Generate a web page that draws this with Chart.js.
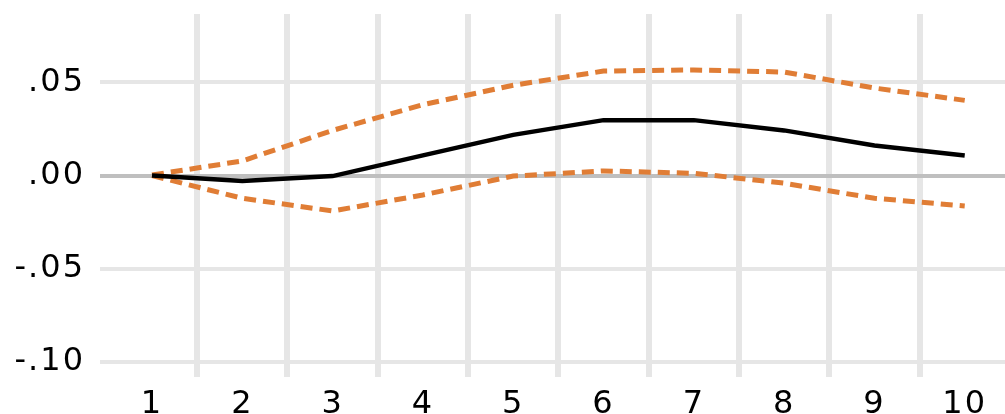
<!DOCTYPE html>
<html lang="en">

<head>
    <meta charset="UTF-8">
    <title>Impulse response</title>
    <script src="https://cdn.jsdelivr.net/npm/chart.js"></script>
</head>

<body style="margin:0;background:#fff;">

    <div style="width:1005px;height:414px;">
        <canvas id="myChart"></canvas>
    </div>

    <script>
        // periods
        const steps = [1, 2, 3, 4, 5, 6, 7, 8, 9, 10];
        // response + bands
        const response = [0.000, -0.0029, -0.0003, 0.0108, 0.0218, 0.0297, 0.0297, 0.0242, 0.0161, 0.0108];
        const upper = [0.0003, 0.0078, 0.0242, 0.0380, 0.0484, 0.0560, 0.0566, 0.0555, 0.0469, 0.0403];
        const lower = [0.000, -0.0122, -0.0190, -0.0104, -0.0003, 0.0025, 0.0012, -0.0041, -0.0122, -0.0163];
        const yTicks = [-0.10, -0.05, 0.00, 0.05];

        const toPts = (arr) => steps.map((s, i) => ({ x: s, y: arr[i] }));

        // wider digits like the original
        const spacing = {
            id: 'spacing',
            beforeLayout: (chart) => { chart.ctx.letterSpacing = '2px'; },
            beforeDraw: (chart) => { chart.ctx.letterSpacing = '2px'; },
        };

        const orange = '#e07d35';

        new Chart(document.getElementById('myChart'), {
            type: 'line',
            data: {
                datasets: [
                    {
                        label: 'response',
                        data: toPts(response),
                        borderColor: '#000',
                        borderWidth: 4.5,
                        pointRadius: 0,
                    },
                    {
                        label: 'upper',
                        data: toPts(upper),
                        borderColor: orange,
                        borderWidth: 5,
                        borderDash: [12, 7],
                        pointRadius: 0,
                    },
                    {
                        label: 'lower',
                        data: toPts(lower),
                        borderColor: orange,
                        borderWidth: 5,
                        borderDash: [12, 7],
                        pointRadius: 0,
                    }
                ]
            },
            options: {
                responsive: true,
                maintainAspectRatio: false,
                animation: false,
                layout: { padding: { top: 14, right: 0, left: 0, bottom: 0 } },
                plugins: {
                    legend: { display: false },
                    tooltip: { enabled: false },
                },
                scales: {
                    x: {
                        type: 'linear',
                        min: 0.424,
                        max: 10.446,
                        afterBuildTicks: (axis) => {
                            const t = [];
                            for (let v = 1; v <= 10; v += 0.5) t.push({ value: v });
                            axis.ticks = t;
                        },
                        afterFit: (axis) => {
                            axis.height = 37;
                            axis.paddingLeft = 0;
                            axis.paddingRight = 0;
                        },
                        border: { display: false },
                        grid: {
                            drawTicks: false,
                            lineWidth: 6,
                            color: (c) => Number.isInteger(c.tick.value) ? 'rgba(0,0,0,0)' : '#e6e6e6',
                        },
                        ticks: {
                            autoSkip: false,
                            maxRotation: 0,
                            padding: 8,
                            color: '#000',
                            font: { family: 'DejaVu Sans', size: 32 },
                            callback: (v) => Number.isInteger(v) ? String(v) : '',
                        },
                    },
                    y: {
                        min: -0.108,
                        max: 0.0866,
                        afterBuildTicks: (axis) => {
                            axis.ticks = yTicks.map((v) => ({ value: v }));
                        },
                        afterFit: (axis) => {
                            axis.width = 100;
                            axis.paddingTop = 0;
                            axis.paddingBottom = 0;
                        },
                        border: { display: false },
                        grid: {
                            drawTicks: false,
                            lineWidth: 4,
                            color: (c) => c.tick.value === 0 ? '#bfbfbf' : '#e6e6e6',
                        },
                        ticks: {
                            padding: 15,
                            color: '#000',
                            font: { family: 'DejaVu Sans', size: 32 },
                            callback: (v) => v.toFixed(2).replace('0.', '.'),
                        },
                    },
                },
            },
            plugins: [spacing],
        });
    </script>

</body>

</html>
